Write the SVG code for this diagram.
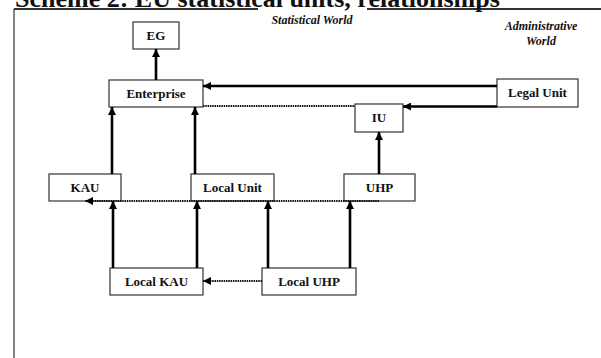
<svg xmlns="http://www.w3.org/2000/svg" width="601" height="358" viewBox="0 0 601 358">
<style>
.box{fill:#fff;stroke:#333;stroke-width:1.2}
.lbl{font-family:"Liberation Serif","Times New Roman",serif;font-weight:bold;font-size:13px;fill:#111;text-anchor:middle}
.cap{font-family:"Liberation Serif","Times New Roman",serif;font-weight:bold;font-style:italic;font-size:12px;fill:#111;text-anchor:middle}
.solid{fill:none;stroke:#000;stroke-width:2.6}
.dot{fill:none;stroke:#111;stroke-width:2;stroke-dasharray:1.5 0.8}
.frame{fill:none;stroke:#333}
</style>
<defs>
<marker id="ah" viewBox="0 0 10 10" refX="10" refY="5" markerWidth="9" markerHeight="8" markerUnits="userSpaceOnUse" orient="auto">
<path d="M0,0 L10,5 L0,10 z" fill="#000"/>
</marker>
</defs>
<g id="frame">
<line class="frame" x1="14" y1="9" x2="258" y2="9" stroke-width="2"/>
<line class="frame" x1="367" y1="9" x2="601" y2="9" stroke-width="2"/>
<line class="frame" x1="14" y1="9" x2="14" y2="358" stroke-width="1.2"/>
</g>
<text id="title" x="15" y="7" font-family="'Liberation Serif','Times New Roman',serif" font-weight="bold" font-size="26" fill="#111">Scheme 2: EU statistical units, relationships</text>
<text id="stat-world" class="cap" x="312" y="24">Statistical World</text>
<g id="admin-world">
<text class="cap" x="541" y="30">Administrative</text>
<text class="cap" x="541" y="45">World</text>
</g>
<g id="eg"><rect class="box" x="133" y="22" width="46" height="27"/><text class="lbl" x="156" y="40">EG</text></g>
<g id="enterprise"><rect class="box" x="109" y="80" width="94" height="27"/><text class="lbl" x="156" y="98">Enterprise</text></g>
<g id="legal-unit"><rect class="box" x="497" y="79" width="81" height="28"/><text class="lbl" x="537.5" y="97">Legal Unit</text></g>
<g id="iu"><rect class="box" x="355" y="104" width="48" height="28"/><text class="lbl" x="379" y="122">IU</text></g>
<g id="kau"><rect class="box" x="49" y="174" width="72" height="27"/><text class="lbl" x="85" y="192">KAU</text></g>
<g id="local-unit"><rect class="box" x="191" y="174" width="83" height="27"/><text class="lbl" x="232.5" y="192">Local Unit</text></g>
<g id="uhp"><rect class="box" x="344" y="174" width="71" height="27"/><text class="lbl" x="379.5" y="192">UHP</text></g>
<g id="local-kau"><rect class="box" x="110" y="268" width="93" height="27"/><text class="lbl" x="156.5" y="286">Local KAU</text></g>
<g id="local-uhp"><rect class="box" x="262" y="268" width="94" height="27"/><text class="lbl" x="309" y="286">Local UHP</text></g>
<g id="connectors">
<line class="solid" x1="156" y1="80" x2="156" y2="49" marker-end="url(#ah)"/>
<line class="solid" x1="497" y1="86" x2="203" y2="86" marker-end="url(#ah)"/>
<line class="dot" x1="203" y1="106" x2="355" y2="106"/>
<line class="solid" x1="497" y1="106.5" x2="403" y2="106.5" marker-end="url(#ah)"/>
<line class="solid" x1="112" y1="174" x2="112" y2="107" marker-end="url(#ah)"/>
<line class="solid" x1="195" y1="174" x2="195" y2="107" marker-end="url(#ah)"/>
<line class="solid" x1="379" y1="174" x2="379" y2="132" marker-end="url(#ah)"/>
<line class="dot" x1="379" y1="201" x2="85" y2="201" marker-end="url(#ah)"/>
<line class="solid" x1="113" y1="268" x2="113" y2="201" marker-end="url(#ah)"/>
<line class="solid" x1="197" y1="268" x2="197" y2="201" marker-end="url(#ah)"/>
<line class="solid" x1="268" y1="268" x2="268" y2="201" marker-end="url(#ah)"/>
<line class="solid" x1="350" y1="268" x2="350" y2="201" marker-end="url(#ah)"/>
<line class="dot" x1="262" y1="281" x2="203" y2="281" marker-end="url(#ah)"/>
</g>
</svg>
